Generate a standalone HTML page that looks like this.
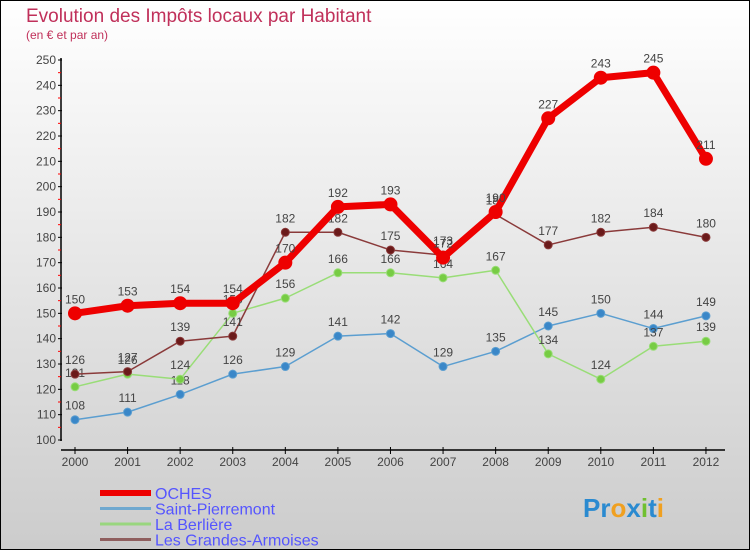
<!DOCTYPE html>
<html><head><meta charset="utf-8"><style>
html,body{margin:0;padding:0}
body{width:750px;height:550px;overflow:hidden;font-family:"Liberation Sans",sans-serif}
#wrap{position:absolute;left:0;top:0;width:748px;height:548px;border:1px solid #000;background:linear-gradient(#ffffff,#cccccc)}
</style></head><body>
<div id="wrap">
<svg id="chart" width="750" height="550" style="position:absolute;left:-1px;top:-1px">
<text x="26" y="22" font-size="19" fill="#c0305a">Evolution des Impôts locaux par Habitant</text>
<text x="26" y="39" font-size="12" fill="#c0305a">(en € et par an)</text>
</svg>
</div>
<script>
const years=['2000','2001','2002','2003','2004','2005','2006','2007','2008','2009','2010','2011','2012'];
const yTicks=[100,110,120,130,140,150,160,170,180,190,200,210,220,230,240,250];
const oches=[150,153,154,154,170,192,193,172,190,227,243,245,211];
const saintPierremont=[108,111,118,126,129,141,142,129,135,145,150,144,149];
const laBerliere=[121,126,124,150,156,166,166,164,167,134,124,137,139];
const grandesArmoises=[126,127,139,141,182,182,175,173,189,177,182,184,180];
const seriesNames=['OCHES','Saint-Pierremont','La Berlière','Les Grandes-Armoises'];
const svg=document.getElementById('chart');const NS='http://www.w3.org/2000/svg';
function X(i){return 75+i*52.58;}
function Y(v){return 440-(v-100)*380/150;}
function el(t,a,p){const e=document.createElementNS(NS,t);for(const k in a)e.setAttribute(k,a[k]);(p||svg).appendChild(e);return e;}
const ya=el('line',{x1:61,y1:58,x2:61,y2:441,stroke:'#000','stroke-width':1.5});


yTicks.forEach(v=>{
 el('line',{x1:58,x2:62,y1:Y(v),y2:Y(v),stroke:'#000'});
 if(v<250){el('line',{x1:58,x2:61,y1:Y(v+5),y2:Y(v+5),stroke:'#f00'});}
 const t=el('text',{x:56,y:Y(v)+4,'text-anchor':'end','font-size':12,fill:'#444'});t.textContent=v;
 
 
});
const xa=el('line',{x1:61,y1:450,x2:725,y2:450,stroke:'#000','stroke-width':1.5});


years.forEach((y,i)=>{
 el('line',{x1:X(i),x2:X(i),y1:447,y2:454,stroke:'#000'});
 const t=el('text',{x:X(i),y:466,'text-anchor':'middle','font-size':12,fill:'#444'});t.textContent=y;
 
 
});
function series(data,color,dot,w,r,name){
 const g=el('g',{});
 
 
 el('polyline',{points:data.map((v,i)=>X(i)+','+Y(v)).join(' '),fill:'none',stroke:color,'stroke-width':w,'stroke-linejoin':'round'},g);
 data.forEach((v,i)=>{
  const c=el('circle',{cx:X(i),cy:Y(v),r:r,fill:dot,stroke:color,'stroke-width':1},g);
  
  
  const t=el('text',{x:X(i),y:Y(v)-10,'text-anchor':'middle','font-size':12,fill:'#444'},g);t.textContent=v;
 });
}
series(saintPierremont,'#5b9ed0','#3a87c8',1.5,4,'series-saint-pierremont');
series(laBerliere,'#99dd77','#77cc44',1.5,4,'series-la-berliere');
series(grandesArmoises,'#8a3a3a','#6b1a1a',1.5,4,'series-grandes-armoises');
series(oches,'#ee0000','#ee0000',7,6.5,'series-oches');
const legColors=['#ee0000','#6fa8cf','#99d67f','#8f5f5f'];const legW=[6,3,3,3];
seriesNames.forEach((n,i)=>{
 const y=493+i*15.5;
 const l=el('line',{x1:100,x2:151,y1:y,y2:y,stroke:legColors[i],'stroke-width':legW[i]});
 
 
 const t=el('text',{x:155,y:y+6,'font-size':16,fill:'#5555ff'});t.textContent=n;
 
 
});
const logo=el('text',{x:583,y:517,'font-size':26,'font-weight':'bold',fill:'#2a8ad0'});


logo.innerHTML='<tspan fill="#2a8ad0">Pr</tspan><tspan fill="#f0a020">o</tspan><tspan fill="#2a8ad0">x</tspan><tspan fill="#70c030">i</tspan><tspan fill="#2a8ad0">t</tspan><tspan fill="#f0a020">i</tspan>';
</script>
</body></html>
